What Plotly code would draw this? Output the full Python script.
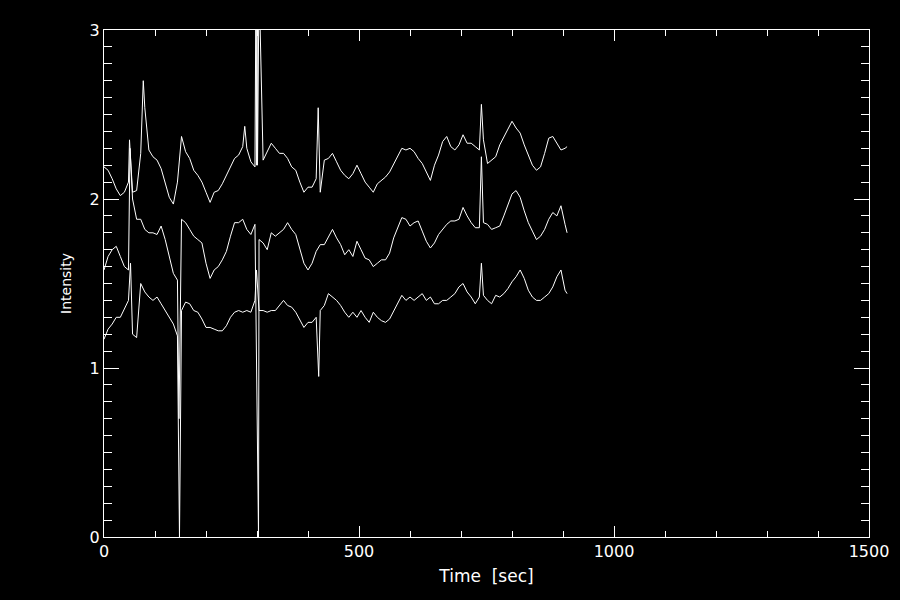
import plotly.graph_objects as go

# sample times [sec]
time_s = [0, 8, 16, 24, 32, 40, 48, 56, 64, 72, 80, 88, 96, 104, 112, 120, 128, 136, 144, 152,
          160, 168, 176, 184, 192, 200, 208, 216, 224, 232, 240, 248, 256, 264, 272, 280, 288, 296, 304, 312,
          320, 328, 336, 344, 352, 360, 368, 376, 384, 392, 400, 408, 416, 424, 432, 440, 448, 456, 464, 472,
          480, 488, 496, 504, 512, 520, 528, 536, 544, 552, 560, 568, 576, 584, 592, 600, 608, 616, 624, 632,
          640, 648, 656, 664, 672, 680, 688, 696, 704, 712, 720, 728, 736, 744, 752, 760, 768, 776, 784, 792,
          800, 808, 816, 824, 832, 840, 848, 856, 864, 872, 880, 888, 896, 904, 908]

upper = [2.19, 2.17, 2.12, 2.06, 2.02, 2.04, 2.10, 2.04, 2.05, 2.27, 2.54, 2.29, 2.25, 2.23, 2.18, 2.10, 2.01, 1.97, 2.10, 2.37,
         2.28, 2.24, 2.17, 2.14, 2.10, 2.04, 1.98, 2.04, 2.05, 2.09, 2.14, 2.20, 2.24, 2.26, 2.31, 2.30, 2.22, 2.19, 3.30, 2.23,
         2.28, 2.33, 2.30, 2.27, 2.27, 2.24, 2.19, 2.17, 2.10, 2.04, 2.07, 2.07, 2.12, 2.04, 2.23, 2.24, 2.27, 2.22, 2.17, 2.14,
         2.12, 2.15, 2.20, 2.15, 2.10, 2.07, 2.04, 2.09, 2.11, 2.13, 2.16, 2.21, 2.26, 2.30, 2.29, 2.30, 2.28, 2.24, 2.21, 2.16,
         2.11, 2.20, 2.26, 2.34, 2.37, 2.31, 2.29, 2.32, 2.38, 2.33, 2.33, 2.31, 2.29, 2.35, 2.21, 2.23, 2.25, 2.32, 2.37, 2.42,
         2.46, 2.42, 2.39, 2.32, 2.26, 2.20, 2.17, 2.19, 2.27, 2.36, 2.37, 2.33, 2.29, 2.30, 2.31]

middle = [1.58, 1.66, 1.70, 1.72, 1.66, 1.60, 1.58, 2.00, 1.88, 1.88, 1.82, 1.80, 1.80, 1.79, 1.84, 1.76, 1.66, 1.56, 1.52, 1.88,
          1.86, 1.82, 1.78, 1.76, 1.74, 1.62, 1.53, 1.58, 1.60, 1.64, 1.69, 1.78, 1.86, 1.86, 1.88, 1.82, 1.79, 1.85, 1.76, 1.74,
          1.70, 1.80, 1.78, 1.80, 1.82, 1.86, 1.82, 1.79, 1.71, 1.62, 1.58, 1.62, 1.69, 1.73, 1.73, 1.78, 1.82, 1.77, 1.73, 1.67,
          1.70, 1.66, 1.75, 1.70, 1.65, 1.64, 1.60, 1.62, 1.64, 1.64, 1.68, 1.77, 1.83, 1.89, 1.88, 1.84, 1.86, 1.87, 1.81, 1.75,
          1.71, 1.74, 1.79, 1.82, 1.85, 1.87, 1.87, 1.88, 1.95, 1.90, 1.86, 1.83, 1.83, 1.86, 1.85, 1.82, 1.83, 1.84, 1.90, 1.97,
          2.03, 2.05, 2.01, 1.93, 1.86, 1.81, 1.76, 1.78, 1.82, 1.88, 1.92, 1.90, 1.96, 1.85, 1.80]

lower = [1.17, 1.23, 1.26, 1.30, 1.30, 1.35, 1.40, 1.20, 1.18, 1.50, 1.45, 1.42, 1.40, 1.42, 1.38, 1.34, 1.30, 1.26, 1.19, 1.34,
         1.39, 1.38, 1.34, 1.33, 1.29, 1.24, 1.24, 1.23, 1.22, 1.22, 1.25, 1.30, 1.33, 1.34, 1.33, 1.34, 1.33, 1.40, 1.34, 1.34,
         1.33, 1.34, 1.34, 1.37, 1.40, 1.37, 1.36, 1.33, 1.28, 1.24, 1.27, 1.27, 1.30, 1.34, 1.37, 1.44, 1.42, 1.40, 1.37, 1.33,
         1.30, 1.33, 1.30, 1.34, 1.30, 1.27, 1.33, 1.30, 1.28, 1.27, 1.29, 1.34, 1.38, 1.43, 1.40, 1.42, 1.40, 1.42, 1.44, 1.40,
         1.42, 1.38, 1.38, 1.40, 1.40, 1.42, 1.44, 1.48, 1.50, 1.45, 1.42, 1.38, 1.42, 1.43, 1.40, 1.38, 1.43, 1.42, 1.44, 1.47,
         1.51, 1.54, 1.58, 1.53, 1.46, 1.42, 1.40, 1.40, 1.42, 1.44, 1.48, 1.54, 1.58, 1.46, 1.44]

# isolated spikes
upper_spike_t = [50, 77, 276, 298, 299, 300, 301, 302, 420, 740]
upper_spike_v = [2.35, 2.70, 2.43, 3.30, 2.20, 3.30, 2.20, 3.30, 2.54, 2.56]
middle_spike_t = [51, 147, 303, 740]
middle_spike_v = [2.30, 0.70, 0.00, 2.25]
lower_spike_t = [52, 148, 299, 421, 740]
lower_spike_v = [1.62, 0.00, 1.58, 0.95, 1.62]

x_ticks = [0, 500, 1000, 1500]
y_ticks = [0, 1, 2, 3]


def merged(t, v, st, sv):
    pts = sorted(list(zip(t, v)) + list(zip(st, sv)), key=lambda p: p[0])
    return [p[0] for p in pts], [p[1] for p in pts]


fig = go.Figure()
for vals, st, sv in [(upper, upper_spike_t, upper_spike_v),
                     (middle, middle_spike_t, middle_spike_v),
                     (lower, lower_spike_t, lower_spike_v)]:
    xs, ys = merged(time_s, vals, st, sv)
    fig.add_trace(go.Scatter(x=xs, y=ys, mode="lines",
                             line=dict(color="white", width=1), showlegend=False,
                             hoverinfo="skip"))

font = dict(family="DejaVu Sans", size=16, color="white")
axis_common = dict(showgrid=False, zeroline=False, showline=True, linecolor="white",
                   linewidth=1, mirror="allticks", ticks="inside", tickcolor="white",
                   tickwidth=1, tickfont=font)

fig.update_layout(
    width=900, height=600,
    paper_bgcolor="black", plot_bgcolor="black",
    margin=dict(l=104, r=31, t=30, b=63),
    font=font,
    xaxis=dict(range=[0, 1500], tickvals=x_ticks, ticklen=11,
               minor=dict(dtick=100, ticklen=6, ticks="inside", tickcolor="white", tickwidth=1),
               title=dict(text="Time\u00a0\u00a0[sec]", font=dict(family="DejaVu Sans", size=17, color="white"),
                          standoff=9),
               **axis_common),
    yaxis=dict(range=[0, 3], tickvals=y_ticks, ticklen=15,
               minor=dict(dtick=0.1, ticklen=8, ticks="inside", tickcolor="white", tickwidth=1),
               title=dict(text="Intensity", font=dict(family="DejaVu Sans", size=14, color="white"), standoff=14),
               **axis_common),
)

fig.write_html("out.html", config={"displayModeBar": False}, post_script=(
    "document.body.style.margin='0';document.body.style.padding='0';"
    "document.body.style.background='black';"))
